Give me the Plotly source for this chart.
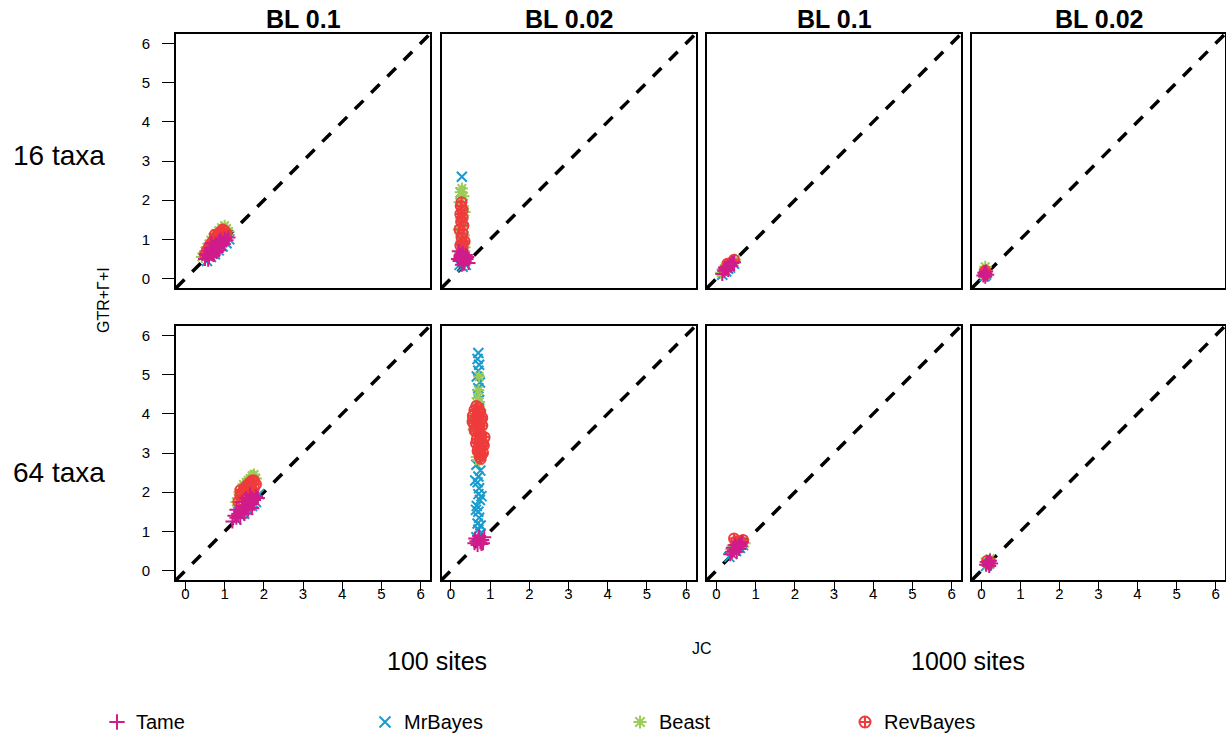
import plotly.graph_objects as go

W, H = 1226, 736

series = ["MrBayes", "Beast", "RevBayes", "Tame"]  # drawing order
legend_order = ["Tame", "MrBayes", "Beast", "RevBayes"]
colors = {"Tame": "#D01C8B", "MrBayes": "#1A9BD0", "Beast": "#9CCB5A", "RevBayes": "#EF3B3C"}
symbols = {"Tame": "cross-thin-open", "MrBayes": "x-thin-open",
           "Beast": "asterisk-open", "RevBayes": "circle-cross-open"}

col_titles = ["BL 0.1", "BL 0.02", "BL 0.1", "BL 0.02"]
row_titles = ["16 taxa", "64 taxa"]
site_labels = ["100 sites", "1000 sites"]
tick_vals = [0, 1, 2, 3, 4, 5, 6]
axis_range = [-0.24, 6.24]

# ---- data: (x = JC, y = GTR+G+I) per panel (row, col) and per program ----
# row 0 = 16 taxa, row 1 = 64 taxa; col 0..3 = 100 sites BL0.1, 100 sites BL0.02, 1000 sites BL0.1, 1000 sites BL0.02
r0c0_Tame_x = [0.5, 0.55, 0.6, 0.62, 0.68, 0.7, 0.75, 0.78, 0.82, 0.85, 0.88, 0.9, 0.95, 1.0, 1.05, 0.65, 0.72, 0.8, 0.9, 0.98, 0.58, 1.1, 0.52, 0.76, 0.86, 0.66]
r0c0_Tame_y = [0.5, 0.6, 0.55, 0.7, 0.62, 0.8, 0.7, 0.88, 0.78, 0.95, 0.82, 1.0, 0.92, 1.02, 0.98, 0.78, 0.6, 0.68, 0.85, 0.88, 0.48, 1.05, 0.62, 0.8, 0.72, 0.9]
r0c0_MrBayes_x = [0.55, 0.65, 0.75, 0.85, 0.95, 1.05, 1.12, 0.7, 0.9, 1.0]
r0c0_MrBayes_y = [0.45, 0.55, 0.62, 0.72, 0.82, 0.9, 1.0, 0.7, 0.85, 0.95]
r0c0_Beast_x = [0.42, 0.5, 0.55, 0.6, 0.65, 0.7, 0.78, 0.85, 0.92, 1.0, 1.05, 0.75, 0.9, 1.1]
r0c0_Beast_y = [0.55, 0.7, 0.8, 0.88, 0.98, 1.05, 1.15, 1.22, 1.3, 1.35, 1.28, 1.0, 1.1, 1.2]
r0c0_RevBayes_x = [0.5, 0.55, 0.6, 0.65, 0.7, 0.75, 0.8, 0.85, 0.9, 0.95, 1.0, 1.05, 0.7, 0.8, 0.9, 1.0, 0.62, 0.75]
r0c0_RevBayes_y = [0.62, 0.72, 0.8, 0.88, 0.95, 1.02, 1.08, 1.15, 1.2, 1.25, 1.22, 1.15, 0.8, 0.9, 1.0, 1.05, 0.68, 1.12]

r0c1_Tame_x = [0.2, 0.25, 0.3, 0.35, 0.4, 0.45, 0.22, 0.3, 0.38, 0.28, 0.33, 0.25, 0.42, 0.18]
r0c1_Tame_y = [0.7, 0.6, 0.5, 0.45, 0.5, 0.4, 0.45, 0.65, 0.6, 0.35, 0.38, 0.55, 0.55, 0.5]
r0c1_MrBayes_x = [0.28, 0.25, 0.3, 0.27, 0.32, 0.25, 0.3, 0.28, 0.35, 0.22, 0.3, 0.38]
r0c1_MrBayes_y = [2.6, 2.2, 1.9, 1.6, 1.3, 1.0, 0.8, 0.6, 0.45, 0.35, 0.3, 0.35]
r0c1_Beast_x = [0.28, 0.25, 0.32, 0.22, 0.3, 0.35, 0.25, 0.3, 0.2, 0.33, 0.27, 0.35, 0.24, 0.3, 0.38]
r0c1_Beast_y = [2.3, 2.2, 2.1, 1.95, 1.85, 1.7, 1.55, 1.4, 1.25, 1.1, 0.95, 0.8, 0.65, 0.5, 0.6]
r0c1_RevBayes_x = [0.27, 0.25, 0.3, 0.24, 0.3, 0.26, 0.32, 0.22, 0.3, 0.27, 0.35, 0.24, 0.3, 0.28, 0.33, 0.22, 0.3]
r0c1_RevBayes_y = [1.95, 1.85, 1.75, 1.65, 1.55, 1.45, 1.35, 1.25, 1.15, 1.05, 0.95, 0.85, 0.78, 0.7, 0.6, 0.55, 0.9]

r0c2_Tame_x = [0.15, 0.2, 0.25, 0.3, 0.35, 0.4, 0.45, 0.22, 0.3, 0.38]
r0c2_Tame_y = [0.12, 0.2, 0.25, 0.3, 0.35, 0.4, 0.42, 0.28, 0.22, 0.32]
r0c2_MrBayes_x = [0.15, 0.25, 0.35, 0.45, 0.3]
r0c2_MrBayes_y = [0.1, 0.18, 0.28, 0.38, 0.25]
r0c2_Beast_x = [0.12, 0.2, 0.3, 0.4, 0.48, 0.25]
r0c2_Beast_y = [0.15, 0.25, 0.35, 0.42, 0.48, 0.32]
r0c2_RevBayes_x = [0.2, 0.3, 0.38, 0.45, 0.28]
r0c2_RevBayes_y = [0.22, 0.32, 0.4, 0.48, 0.38]

r0c3_Tame_x = [0.05, 0.1, 0.15, 0.1, 0.08, 0.12]
r0c3_Tame_y = [0.08, 0.12, 0.1, 0.05, 0.15, 0.18]
r0c3_MrBayes_x = [0.08, 0.12]
r0c3_MrBayes_y = [0.06, 0.1]
r0c3_Beast_x = [0.1, 0.05, 0.15, 0.1]
r0c3_Beast_y = [0.3, 0.15, 0.2, 0.1]
r0c3_RevBayes_x = [0.08, 0.12, 0.1]
r0c3_RevBayes_y = [0.15, 0.12, 0.2]

r1c0_Tame_x = [1.2, 1.3, 1.35, 1.4, 1.45, 1.5, 1.55, 1.6, 1.65, 1.7, 1.75, 1.8, 1.85, 1.4, 1.5, 1.6, 1.7, 1.45, 1.55, 1.65, 1.3, 1.25]
r1c0_Tame_y = [1.25, 1.35, 1.45, 1.5, 1.55, 1.65, 1.6, 1.75, 1.7, 1.85, 1.8, 1.9, 1.85, 1.35, 1.45, 1.55, 1.6, 1.75, 1.85, 1.95, 1.55, 1.4]
r1c0_MrBayes_x = [1.3, 1.4, 1.5, 1.6, 1.7, 1.8, 1.35, 1.55, 1.75, 1.88]
r1c0_MrBayes_y = [1.3, 1.4, 1.45, 1.55, 1.65, 1.75, 1.5, 1.6, 1.7, 1.95]
r1c0_Beast_x = [1.3, 1.35, 1.4, 1.45, 1.5, 1.55, 1.6, 1.65, 1.7, 1.75, 1.8, 1.38, 1.48]
r1c0_Beast_y = [1.75, 1.85, 1.95, 2.05, 2.15, 2.25, 2.3, 2.35, 2.42, 2.45, 2.35, 2.0, 2.2]
r1c0_RevBayes_x = [1.35, 1.4, 1.45, 1.5, 1.55, 1.6, 1.65, 1.7, 1.75, 1.8, 1.45, 1.55, 1.65, 1.75, 1.4, 1.5, 1.6, 1.7]
r1c0_RevBayes_y = [1.75, 1.9, 2.0, 2.1, 2.15, 2.2, 2.25, 2.3, 2.3, 2.2, 1.8, 1.95, 2.05, 2.1, 2.05, 1.85, 1.9, 2.0]

r1c1_Tame_x = [0.6, 0.65, 0.7, 0.75, 0.8, 0.85, 0.68, 0.78, 0.72, 0.62, 0.82]
r1c1_Tame_y = [0.7, 0.75, 0.8, 0.72, 0.78, 0.85, 0.65, 0.68, 0.88, 0.82, 0.7]
r1c1_MrBayes_x = [0.7, 0.68, 0.72, 0.7, 0.66, 0.74, 0.7, 0.68, 0.72, 0.7, 0.65, 0.75, 0.7, 0.68, 0.72, 0.7, 0.74, 0.66, 0.7, 0.72, 0.68, 0.7, 0.75, 0.65, 0.7, 0.72, 0.68, 0.62, 0.78, 0.64, 0.76]
r1c1_MrBayes_y = [5.55, 5.4, 5.25, 5.1, 4.95, 4.8, 4.65, 4.5, 4.35, 4.2, 2.7, 2.55, 2.4, 2.25, 2.1, 1.95, 1.8, 1.65, 1.5, 1.35, 1.2, 1.05, 0.95, 0.85, 0.75, 3.0, 4.0, 2.3, 1.9, 1.55, 1.15]
r1c1_Beast_x = [0.72, 0.7, 0.68, 0.72, 0.65, 0.75, 0.7, 0.58, 0.82, 0.7, 0.66, 0.84, 0.72, 0.56, 0.8]
r1c1_Beast_y = [4.95, 4.6, 4.4, 4.3, 4.2, 4.1, 3.9, 3.6, 3.4, 3.1, 2.9, 3.2, 2.8, 3.9, 3.7]
r1c1_RevBayes_x = [0.65, 0.6, 0.7, 0.75, 0.56, 0.68, 0.78, 0.58, 0.66, 0.72, 0.8, 0.62, 0.7, 0.78, 0.66, 0.72, 0.82, 0.7, 0.76, 0.84, 0.72, 0.78, 0.74, 0.82, 0.76, 0.6, 0.55, 0.64, 0.68, 0.74, 0.8, 0.86]
r1c1_RevBayes_y = [4.2, 4.1, 4.15, 4.05, 3.95, 3.9, 3.85, 3.75, 3.7, 3.65, 3.7, 3.55, 3.5, 3.45, 3.35, 3.3, 3.25, 3.15, 3.1, 3.2, 3.0, 2.95, 2.9, 3.0, 2.85, 3.6, 3.8, 3.25, 3.05, 4.0, 3.9, 3.4]

r1c2_Tame_x = [0.35, 0.4, 0.45, 0.5, 0.55, 0.6, 0.65, 0.42, 0.52, 0.58, 0.48, 0.62]
r1c2_Tame_y = [0.42, 0.48, 0.52, 0.58, 0.62, 0.68, 0.72, 0.58, 0.48, 0.55, 0.65, 0.62]
r1c2_MrBayes_x = [0.33, 0.4, 0.5, 0.6, 0.68]
r1c2_MrBayes_y = [0.35, 0.42, 0.5, 0.58, 0.65]
r1c2_Beast_x = [0.38, 0.45, 0.55, 0.68, 0.72]
r1c2_Beast_y = [0.55, 0.62, 0.72, 0.78, 0.7]
r1c2_RevBayes_x = [0.45, 0.5, 0.58, 0.65, 0.68]
r1c2_RevBayes_y = [0.82, 0.75, 0.68, 0.72, 0.78]

r1c3_Tame_x = [0.12, 0.18, 0.22, 0.15, 0.2, 0.25]
r1c3_Tame_y = [0.15, 0.2, 0.25, 0.22, 0.12, 0.18]
r1c3_MrBayes_x = [0.12, 0.2]
r1c3_MrBayes_y = [0.12, 0.18]
r1c3_Beast_x = [0.1, 0.22, 0.18]
r1c3_Beast_y = [0.22, 0.3, 0.15]
r1c3_RevBayes_x = [0.15, 0.22, 0.18]
r1c3_RevBayes_y = [0.25, 0.22, 0.18]

data = globals()

# ---- layout geometry (pixels) ----
col_px = [(176, 430), (441.5, 695.5), (707, 961), (972, 1225)]
row_px = [(34, 288), (326, 580)]
FONT = "Liberation Sans, Arial, Helvetica, sans-serif"

fig = go.Figure()
layout = {}
for r in range(2):
    for c in range(4):
        i = r * 4 + c + 1
        xa = "x" if i == 1 else f"x{i}"
        ya = "y" if i == 1 else f"y{i}"
        xd = [col_px[c][0] / W, col_px[c][1] / W]
        yd = [1 - row_px[r][1] / H, 1 - row_px[r][0] / H]
        show_x = (r == 1)
        show_y = (c == 0)
        layout[f"xaxis{'' if i == 1 else i}"] = dict(
            domain=xd, anchor=ya, range=axis_range, showgrid=False, zeroline=False,
            showline=True, linecolor="black", linewidth=2, mirror=True,
            ticks="outside" if show_x else "", ticklen=9, tickwidth=1.3, tickcolor="black",
            tickvals=tick_vals, showticklabels=show_x, ticklabelstandoff=-10,
            tickfont=dict(family=FONT, size=15, color="black"))
        layout[f"yaxis{'' if i == 1 else i}"] = dict(
            domain=yd, anchor=xa, range=axis_range, showgrid=False, zeroline=False,
            showline=True, linecolor="black", linewidth=2, mirror=True,
            ticks="outside" if show_y else "", ticklen=12, tickwidth=1.3, tickcolor="black",
            tickvals=tick_vals, showticklabels=show_y, ticklabelstandoff=9,
            tickfont=dict(family=FONT, size=15, color="black"))
        for s in series:
            fig.add_trace(go.Scatter(
                x=data[f"r{r}c{c}_{s}_x"], y=data[f"r{r}c{c}_{s}_y"],
                mode="markers", xaxis=xa, yaxis=ya, showlegend=False, name=s,
                marker=dict(symbol=symbols[s], size=10, color=colors[s],
                            line=dict(width=2, color=colors[s]))))
        fig.add_shape(type="line", xref=xa, yref=ya,
                      x0=axis_range[0], y0=axis_range[0], x1=axis_range[1], y1=axis_range[1],
                      line=dict(color="black", width=3.5, dash="12px,11px"), layer="below")


def ann(text, px, py, size, **kw):
    d = dict(text=text, x=px / W, y=1 - py / H, xref="paper", yref="paper",
             xanchor="center", yanchor="middle", showarrow=False,
             font=dict(family=FONT, size=size, color="black"))
    d.update(kw)
    return d


annotations = []
for c, t in enumerate(col_titles):
    annotations.append(ann(f"<b>{t}</b>", (col_px[c][0] + col_px[c][1]) / 2, 19, 25))
for r, t in enumerate(row_titles):
    annotations.append(ann(t, 59, [155, 472][r], 28))
annotations.append(ann("GTR+Γ+I", 104, 300, 16, textangle=-90))
annotations.append(ann("JC", 702, 648, 16))
for k, t in enumerate(site_labels):
    annotations.append(ann(t, [437, 968][k], 661, 25))

# manual legend along the bottom (own invisible strip axis)
leg_px = [117, 385, 640, 865]
leg_py = 722
strip = [0, 40 / H]
layout["xaxis9"] = dict(domain=[0, 1], range=[0, W], visible=False, anchor="y9", fixedrange=True)
layout["yaxis9"] = dict(domain=strip, range=[H, H - 40], visible=False, anchor="x9", fixedrange=True)
for k, s in enumerate(legend_order):
    fig.add_trace(go.Scatter(
        x=[leg_px[k]], y=[leg_py], mode="markers", xaxis="x9", yaxis="y9", showlegend=False,
        marker=dict(symbol=symbols[s], size=11, color=colors[s], line=dict(width=2, color=colors[s]))))
    annotations.append(ann(s, leg_px[k] + 17, leg_py, 20, xanchor="left"))

fig.update_layout(width=W, height=H, margin=dict(l=0, r=0, t=0, b=0),
                  paper_bgcolor="white", plot_bgcolor="rgba(0,0,0,0)",
                  annotations=annotations, **layout)
fig.write_html("out.html")
